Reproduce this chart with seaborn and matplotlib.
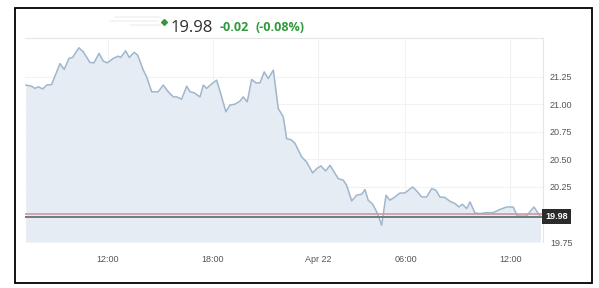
import matplotlib
matplotlib.use("Agg")
import matplotlib.pyplot as plt
import seaborn as sns
import pandas as pd
from matplotlib.patches import Rectangle
from matplotlib.lines import Line2D

# ---- data ----
hours = [7.30, 7.64, 7.83, 8.02, 8.27, 8.50, 8.78, 9.26, 9.50, 9.77, 9.98, 10.34, 10.59,
         10.97, 11.20, 11.49, 11.73, 11.96, 12.30, 12.59, 12.73, 13.01, 13.22, 13.50, 13.70,
         14.02, 14.21, 14.50, 14.87, 15.16, 15.45, 15.73, 15.93, 16.21, 16.50, 16.69, 16.93,
         17.26, 17.45, 17.64, 17.89, 18.21, 18.44, 18.74, 18.97, 19.26, 19.54, 19.73, 19.96,
         20.21, 20.46, 20.69, 20.93, 21.16, 21.45, 21.73, 22.02, 22.21, 22.50, 22.69, 23.07,
         23.35, 23.70, 23.93, 24.17, 24.44, 24.69, 25.16, 25.45, 25.64, 25.93, 26.21, 26.50,
         26.69, 26.87, 27.13, 27.39, 27.64, 27.89, 28.11, 28.40, 28.69, 28.97, 29.41, 29.64,
         29.93, 30.21, 30.50, 30.74, 30.97, 31.26, 31.54, 31.83, 32.06, 32.25, 32.50, 32.69,
         32.97, 33.26, 33.64, 34.02, 34.40, 34.78, 35.16, 35.39, 35.92, 36.34, 36.72]
prices = [21.175, 21.165, 21.145, 21.160, 21.140, 21.175, 21.180, 21.370, 21.317, 21.417,
          21.426, 21.514, 21.477, 21.381, 21.377, 21.463, 21.393, 21.377, 21.417, 21.438,
          21.426, 21.486, 21.426, 21.472, 21.447, 21.311, 21.250, 21.114, 21.114, 21.175,
          21.114, 21.068, 21.068, 21.047, 21.165, 21.114, 21.105, 21.068, 21.175, 21.145,
          21.181, 21.220, 21.099, 20.932, 20.993, 21.002, 21.029, 21.068, 21.023, 21.226,
          21.195, 21.195, 21.295, 21.235, 21.311, 20.963, 20.886, 20.690, 20.675, 20.645,
          20.523, 20.477, 20.377, 20.417, 20.441, 20.395, 20.447, 20.326, 20.311, 20.265,
          20.123, 20.175, 20.184, 20.226, 20.129, 20.093, 20.014, 19.902, 20.175, 20.129,
          20.159, 20.195, 20.195, 20.250, 20.214, 20.159, 20.159, 20.235, 20.220, 20.159,
          20.154, 20.120, 20.099, 20.068, 20.093, 20.054, 20.114, 20.014, 20.008, 20.017,
          20.017, 20.045, 20.068, 20.068, 19.986, 19.986, 20.068, 19.980]
last_price = 19.98
prev_close = 20.00
change_text = "-0.02"
pct_text = "(-0.08%)"
y_ticks = [19.75, 20.25, 20.50, 20.75, 21.00, 21.25]
x_tick_pos = [12, 18, 24, 29, 35]
x_tick_labels = ["12:00", "18:00", "Apr 22", "06:00", "12:00"]

df = pd.DataFrame({"hour": hours, "price": prices})

sns.set_theme(style="white")
plt.rcParams["font.family"] = ["Liberation Sans", "DejaVu Sans"]

W, H = 599, 288
fig = plt.figure(figsize=(W / 100, H / 100), dpi=100)
fig.patch.set_facecolor("white")
ax = fig.add_axes([25 / W, 1 - 242 / H, (543 - 25) / W, (242 - 38.3) / H])

ymin, ymax = 19.75, 21.60
xmin, xmax = 7.26, 36.86

ax.fill_between(df["hour"], df["price"], ymin, color="#e5ecf3", linewidth=0, zorder=1)
sns.lineplot(data=df, x="hour", y="price", ax=ax, color="#9fb6cd", linewidth=1.1, zorder=3)

ax.axhline(prev_close, color="#c99a9f", linewidth=1.2, zorder=4)
ax.axhline(last_price, color="#6f7a80", linewidth=1.4, zorder=4)

ax.set_xlim(xmin, xmax)
ax.set_ylim(ymin, ymax)

ax.set_xticks(x_tick_pos)
ax.set_xticklabels(x_tick_labels)
ax.set_yticks(y_ticks)
ax.set_yticklabels([f"{v:.2f}" for v in y_ticks])
ax.yaxis.tick_right()
ax.tick_params(axis="both", length=0, labelsize=6.5, labelcolor="#555555")
ax.tick_params(axis="y", pad=5)
ax.tick_params(axis="x", pad=9)
ax.set_xlabel("")
ax.set_ylabel("")

ax.grid(True, color="#f1f2f4", linewidth=0.8, zorder=0)
ax.set_axisbelow(True)
for side in ["left", "bottom"]:
    ax.spines[side].set_visible(False)
for side in ["top", "right"]:
    ax.spines[side].set_visible(True)
    ax.spines[side].set_color("#e6e6e6")
    ax.spines[side].set_linewidth(0.8)

# last price badge
ax.annotate(f"{last_price:.2f}", xy=(1.0, last_price), xycoords=("axes fraction", "data"),
            xytext=(1.5, 0), textcoords="offset points", ha="left", va="center",
            fontsize=6.5, color="white", fontweight="bold",
            bbox=dict(boxstyle="square,pad=0.35", fc="#2b2b2b", ec="none"), zorder=6,
            annotation_clip=False)

# header
fig.text(171 / W, 1 - 27.5 / H, f"{last_price:.2f}", fontsize=12, color="#2f2f2f",
         ha="left", va="center", family=["Open Sans", "DejaVu Sans"])
fig.text(220 / W, 1 - 27.5 / H, change_text, fontsize=9, color="#2e9a3a", fontweight="bold",
         ha="left", va="center", family=["Open Sans", "DejaVu Sans"])
fig.text(256 / W, 1 - 27.5 / H, pct_text, fontsize=9, color="#2e9a3a", fontweight="bold",
         ha="left", va="center", family=["Open Sans", "DejaVu Sans"])
fig.add_artist(Line2D([164 / W], [1 - 22 / H], marker="D", markersize=3, color="#2e9a3a",
                      transform=fig.transFigure))
for yy, x0, x1 in [(17, 115, 160), (21, 110, 158), (25, 130, 162)]:
    fig.add_artist(Line2D([x0 / W, x1 / W], [1 - yy / H, 1 - yy / H], color="#f2f2f2",
                          linewidth=1.2, transform=fig.transFigure))

# outer frame
fig.add_artist(Rectangle((15 / W, 1 - 283 / H), (592 - 15) / W, (283 - 8) / H,
                         transform=fig.transFigure, fill=False, edgecolor="black",
                         linewidth=1.3))

fig.savefig("out.png", dpi=100, facecolor="white")
